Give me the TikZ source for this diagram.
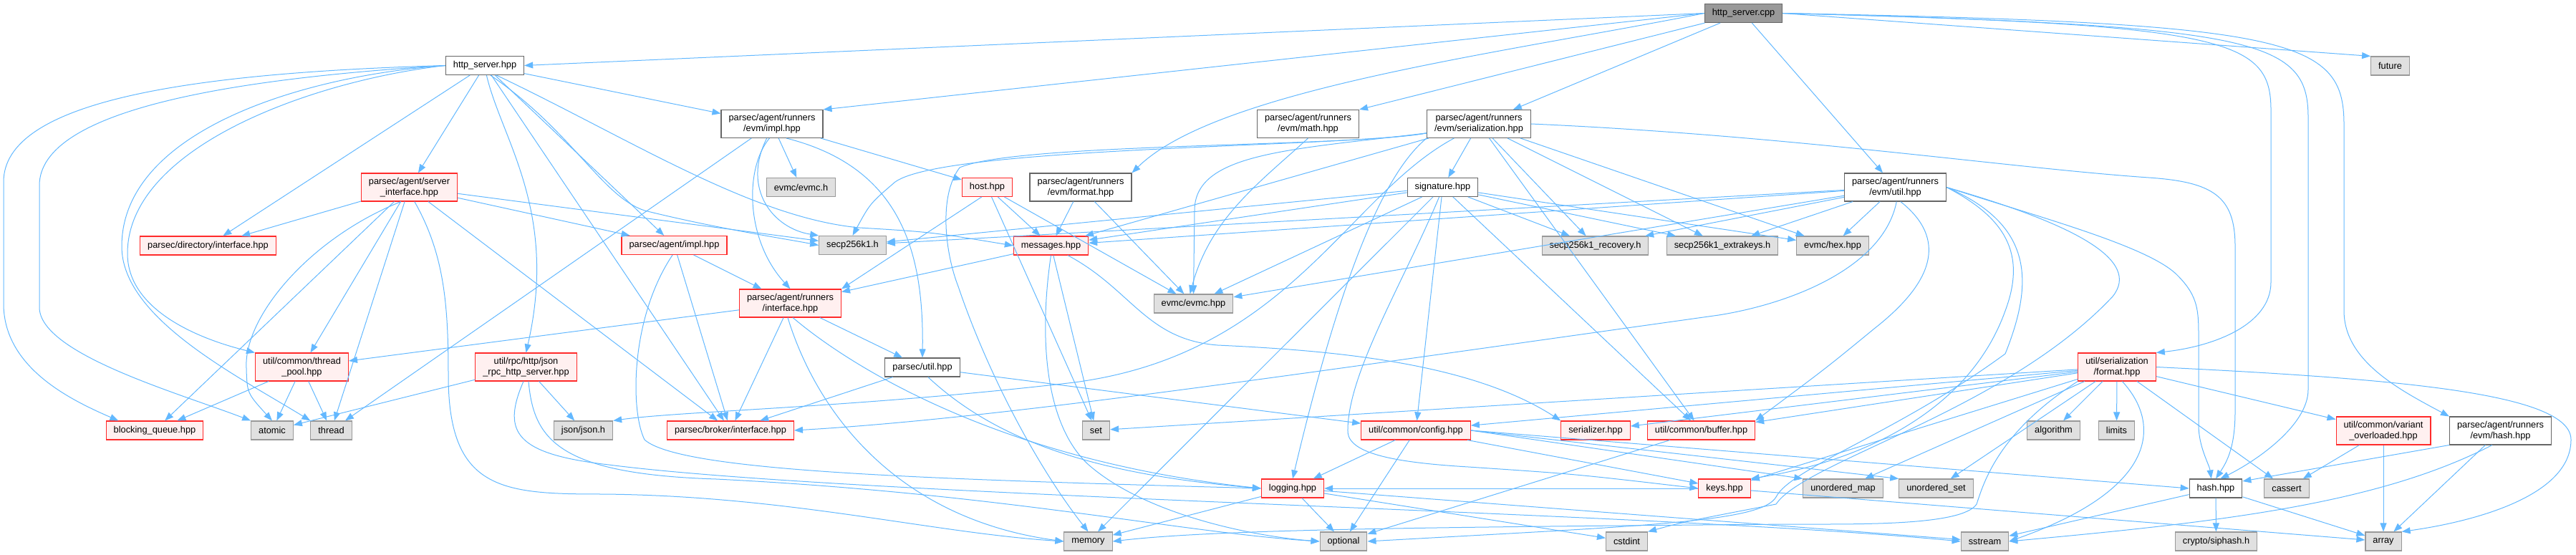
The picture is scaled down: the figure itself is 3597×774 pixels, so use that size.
\documentclass[tikz,border=0pt]{standalone}
\usepackage{fontspec}
\setmainfont{Liberation Sans}
\usetikzlibrary{arrows.meta}

\definecolor{edgeblue}{HTML}{63B8FF}
\definecolor{rootfill}{HTML}{999999}
\definecolor{darkline}{HTML}{666666}
\definecolor{redfill}{HTML}{FFF0F0}
\definecolor{redline}{HTML}{FF2A2A}
\definecolor{sysfill}{HTML}{E0E0E0}
\definecolor{sysline}{HTML}{999999}

\begin{document}
\begin{tikzpicture}[
    x=1pt, y=1pt,
    base_box/.style={
        rectangle,
        line width=1.1pt,
        inner xsep=10.5pt,
        inner ysep=6pt,
        minimum height=26pt,
        align=center,
        font=\fontsize{12.8}{15}\selectfont
    },
    root_box/.style={base_box, draw=darkline, fill=rootfill},
    file_box/.style={base_box, draw=darkline, fill=white},
    red_box/.style={base_box, draw=redline, fill=redfill},
    sys_box/.style={base_box, draw=sysline, fill=sysfill},
    inc_arrow/.style={
        -{Triangle[length=12pt,width=9pt]},
        draw=edgeblue,
        line width=1pt
    }
]
\useasboundingbox (0,0) rectangle (3597,774);

% Nodes
\node[root_box] (cpp) at (2434.5,755.5) {http\_server.cpp};
\node[file_box] (srvhpp) at (677,682.5) {http\_server.hpp};
\node[file_box] (evmimpl) at (1078,601) {parsec/agent/runners\\/evm/impl.hpp};
\node[file_box] (evmmath) at (1826.5,601) {parsec/agent/runners\\/evm/math.hpp};
\node[file_box] (evmser) at (2065,601) {parsec/agent/runners\\/evm/serialization.hpp};
\node[sys_box] (future) at (3337.5,682) {future};

\node[red_box] (srvif) at (571.5,512.5) {parsec/agent/server\\\_interface.hpp};
\node[sys_box] (evmch) at (1118.5,512.5) {evmc/evmc.h};
\node[red_box] (host) at (1378.5,512.5) {host.hpp};
\node[file_box] (evmformat) at (1509,512.5) {parsec/agent/runners\\/evm/format.hpp};
\node[file_box] (signature) at (2014.5,512.5) {signature.hpp};
\node[file_box] (evmutil) at (2646.5,512.5) {parsec/agent/runners\\/evm/util.hpp};

\node[red_box] (dirif) at (290.5,431) {parsec/directory/interface.hpp};
\node[red_box] (agentimpl) at (941.5,431.5) {parsec/agent/impl.hpp};
\node[sys_box] (secp) at (1190.5,431.5) {secp256k1.h};
\node[red_box] (messages) at (1467.5,431) {messages.hpp};
\node[sys_box] (recovery) at (2227.5,431) {secp256k1\_recovery.h};
\node[sys_box] (extrakeys) at (2405,431) {secp256k1\_extrakeys.h};
\node[sys_box] (hex) at (2559,431) {evmc/hex.hpp};

\node[red_box] (runif) at (1103.5,350.5) {parsec/agent/runners\\/interface.hpp};
\node[sys_box] (evmchpp) at (1666.5,350) {evmc/evmc.hpp};

\node[red_box] (tpool) at (421.5,261.5) {util/common/thread\\\_pool.hpp};
\node[red_box] (jsonrpc) at (734.5,261.5) {util/rpc/http/json\\\_rpc\_http\_server.hpp};
\node[file_box] (putil) at (1288,261) {parsec/util.hpp};
\node[red_box] (sfmt) at (2956,261.5) {util/serialization\\/format.hpp};

\node[red_box] (bqueue) at (216,173) {blocking\_queue.hpp};
\node[sys_box] (atomic) at (380,173) {atomic};
\node[sys_box] (thread) at (462.5,173) {thread};
\node[sys_box] (jsonh) at (814.5,173) {json/json.h};
\node[red_box] (brokerif) at (1020,173) {parsec/broker/interface.hpp};
\node[sys_box] (set) at (1530.5,173) {set};
\node[red_box] (config) at (1977,173) {util/common/config.hpp};
\node[red_box] (serializer) at (2228,173) {serializer.hpp};
\node[red_box] (buffer) at (2375.5,173) {util/common/buffer.hpp};
\node[sys_box] (algorithm) at (2867.5,173) {algorithm};
\node[sys_box] (limits) at (2955.5,173) {limits};
\node[red_box] (variant) at (3328,172.5) {util/common/variant\\\_overloaded.hpp};
\node[file_box] (evmhash) at (3491.5,172.5) {parsec/agent/runners\\/evm/hash.hpp};

\node[red_box] (logging) at (1805,92) {logging.hpp};
\node[red_box] (keys) at (2408,92) {keys.hpp};
\node[sys_box] (umap) at (2573.5,92) {unordered\_map};
\node[sys_box] (uset) at (2703.5,92) {unordered\_set};
\node[file_box] (hash) at (3094,92) {hash.hpp};
\node[sys_box] (cassert) at (3193,92) {cassert};

\node[sys_box] (memory) at (1519.5,18) {memory};
\node[sys_box] (optional) at (1876,18) {optional};
\node[sys_box] (cstdint) at (2271.5,18) {cstdint};
\node[sys_box] (sstream) at (2771.5,18) {sstream};
\node[sys_box] (siphash) at (3094.5,18) {crypto/siphash.h};
\node[sys_box] (array) at (3328,18) {array};

% http_server.cpp
\draw[inc_arrow] (cpp.west) -- (srvhpp.east);
\draw[inc_arrow] (cpp.west) -- (evmimpl.north east);
\draw[inc_arrow] (cpp) -- (evmmath.north east);
\draw[inc_arrow] (cpp.west) .. controls (2100,700) and (1700,650) .. (evmformat.north east);
\draw[inc_arrow] (cpp) -- (evmser);
\draw[inc_arrow] (cpp) -- (evmutil);
\draw[inc_arrow] (cpp.east) -- (future.north west);
\draw[inc_arrow] (cpp.east) .. controls (3110,740) and (3171,720) .. (3171,620) -- (3171,380) .. controls (3171,320) and (3090,290) .. (sfmt.north east);
\draw[inc_arrow] (cpp.east) .. controls (3150,738) and (3223,720) .. (3223,610) -- (3223,230) .. controls (3223,180) and (3150,130) .. (hash.65);
\draw[inc_arrow] (cpp.east) .. controls (3200,742) and (3273,720) .. (3273,600) -- (3273,340) .. controls (3273,270) and (3350,230) .. (evmhash.north west);

% http_server.hpp
\draw[inc_arrow] (srvhpp.west) .. controls (250,672) and (5,630) .. (5,520) -- (5,350) .. controls (5,260) and (100,215) .. (bqueue.165);
\draw[inc_arrow] (srvhpp.west) .. controls (320,664) and (55,620) .. (55,515) -- (55,345) .. controls (55,280) and (250,225) .. (atomic.north west);
\draw[inc_arrow] (srvhpp.west) .. controls (420,668) and (170,590) .. (170,430) .. controls (170,330) and (330,250) .. (thread.north west);
\draw[inc_arrow] (srvhpp.west) .. controls (440,662) and (178,570) .. (178,420) .. controls (178,340) and (280,300) .. (tpool.north west);
\draw[inc_arrow] (srvhpp) -- (dirif);
\draw[inc_arrow] (srvhpp) -- (srvif);
\draw[inc_arrow] (srvhpp) -- (brokerif);
\draw[inc_arrow] (srvhpp.-80) .. controls (700,580) and (780,480) .. (jsonrpc.north);
\draw[inc_arrow] (srvhpp) -- (agentimpl);
\draw[inc_arrow] (srvhpp.-60) .. controls (800,590) and (840,500) .. (900,480) .. controls (1000,455) and (1100,440) .. (secp.west);
\draw[inc_arrow] (srvhpp.-40) .. controls (880,580) and (1050,470) .. (1200,456) .. controls (1300,450) .. (messages.west);
\draw[inc_arrow] (srvhpp) -- (evmimpl);

% parsec/agent/server_interface.hpp
\draw[inc_arrow] (srvif) -- (dirif);
\draw[inc_arrow] (srvif) -- (bqueue);
\draw[inc_arrow] (srvif.-120) .. controls (430,440) and (340,330) .. (344,260) .. controls (345,225) .. (atomic.north);
\draw[inc_arrow] (srvif) -- (tpool);
\draw[inc_arrow] (srvif) -- (thread);
\draw[inc_arrow] (srvif.-70) .. controls (620,420) and (626,350) .. (626,250) .. controls (626,90) and (700,84) .. (840,84) .. controls (1100,82) and (1300,30) .. (memory.west);
\draw[inc_arrow] (srvif) -- (brokerif);
\draw[inc_arrow] (srvif) -- (secp);
\draw[inc_arrow] (srvif) -- (agentimpl);

% parsec/agent/runners/evm/impl.hpp
\draw[inc_arrow] (evmimpl) -- (thread);
\draw[inc_arrow] (evmimpl.-100) .. controls (1040,540) and (1040,440) .. (runif.north);
\draw[inc_arrow] (evmimpl.-110) .. controls (1035,510) and (1080,455) .. (secp.north west);
\draw[inc_arrow] (evmimpl) -- (evmch);
\draw[inc_arrow] (evmimpl.-45) .. controls (1260,540) and (1290,420) .. (putil.north);
\draw[inc_arrow] (evmimpl) -- (host);

% parsec/agent/impl.hpp
\draw[inc_arrow] (agentimpl) -- (runif);
\draw[inc_arrow] (agentimpl) -- (brokerif);
\draw[inc_arrow] (agentimpl.-100) .. controls (880,330) and (880,200) .. (900,160) .. controls (950,115) and (1300,105) .. (logging.west);

% host.hpp, format.hpp, math.hpp
\draw[inc_arrow] (host.-120) -- (runif.north east);
\draw[inc_arrow] (host) -- (messages);
\draw[inc_arrow] (host) -- (evmchpp);
\draw[inc_arrow] (host) -- (set);
\draw[inc_arrow] (evmformat) -- (messages);
\draw[inc_arrow] (evmformat) -- (evmchpp);
\draw[inc_arrow] (evmmath.south) .. controls (1760,520) and (1690,470) .. (evmchpp.110);

% messages.hpp
\draw[inc_arrow] (messages) -- (runif);
\draw[inc_arrow] (messages) -- (set);
\draw[inc_arrow] (messages.south) .. controls (1450,300) and (1460,180) .. (1520,125) .. controls (1600,55) and (1750,25) .. (optional.west);
\draw[inc_arrow] (messages.-30) .. controls (1580,370) and (1600,300) .. (1700,292) .. controls (1850,285) and (2050,270) .. (serializer.north west);

% parsec/agent/runners/evm/serialization.hpp
\draw[inc_arrow] (evmser) -- (signature);
\draw[inc_arrow] (evmser) -- (recovery);
\draw[inc_arrow] (evmser) -- (extrakeys);
\draw[inc_arrow] (evmser) -- (hex);
\draw[inc_arrow] (evmser) -- (messages);
\draw[inc_arrow] (evmser.east) .. controls (2500,585) and (2800,540) .. (3000,526) .. controls (3090,520) and (3121,500) .. (3121,430) -- (3121,200) .. controls (3121,150) and (3110,130) .. (hash.north);
\draw[inc_arrow] (evmser.-170) .. controls (1880,568) and (1420,575) .. (1340,540) .. controls (1310,500) and (1320,420) .. (1338,374) .. controls (1380,250) and (1450,120) .. (memory.north);
\draw[inc_arrow] (evmser.-170) .. controls (1880,568) and (1320,570) .. (1250,520) .. controls (1215,490) .. (secp.north);
\draw[inc_arrow] (evmser.-170) .. controls (1800,565) and (1668,560) .. (1668,480) -- (evmchpp.north);
\draw[inc_arrow] (evmser.-150) .. controls (1880,500) and (1800,280) .. (1500,240) .. controls (1200,205) and (950,200) .. (jsonh.north east);
\draw[inc_arrow] (evmser.south west) .. controls (1930,530) and (1870,380) .. (logging.north);
\draw[inc_arrow] (evmser) -- (buffer);

% signature.hpp
\draw[inc_arrow] (signature) -- (secp);
\draw[inc_arrow] (signature) -- (messages);
\draw[inc_arrow] (signature) -- (evmchpp);
\draw[inc_arrow] (signature) -- (memory);
\draw[inc_arrow] (signature) -- (config);
\draw[inc_arrow] (signature.-110) .. controls (1960,380) and (1880,250) .. (1882,170) .. controls (1885,140) and (1950,128) .. (2050,122) .. controls (2200,112) .. (keys.west);
\draw[inc_arrow] (signature) -- (buffer);
\draw[inc_arrow] (signature) -- (recovery);
\draw[inc_arrow] (signature) -- (extrakeys);
\draw[inc_arrow] (signature) -- (hex);

% parsec/agent/runners/evm/util.hpp
\draw[inc_arrow] (evmutil) -- (secp);
\draw[inc_arrow] (evmutil) -- (messages);
\draw[inc_arrow] (evmutil) -- (evmchpp);
\draw[inc_arrow] (evmutil) -- (recovery);
\draw[inc_arrow] (evmutil) -- (extrakeys);
\draw[inc_arrow] (evmutil) -- (hex);
\draw[inc_arrow] (evmutil.-85) .. controls (2630,400) and (2500,350) .. (2400,334) .. controls (1800,250) and (1400,190) .. (brokerif.east);
\draw[inc_arrow] (evmutil.-70) .. controls (2720,440) and (2700,380) .. (2617,315) .. controls (2550,260) .. (buffer.north east);
\draw[inc_arrow] (evmutil.east) .. controls (2800,470) and (2830,420) .. (2800,340) .. controls (2750,200) and (2600,130) .. (keys.north east);
\draw[inc_arrow] (evmutil.east) .. controls (2840,460) and (2840,380) .. (2800,280) .. controls (2650,170) and (2500,120) .. (2480,80) .. controls (2460,45) and (2300,40) .. (optional.east);
\draw[inc_arrow] (evmutil.east) .. controls (2900,460) and (2990,410) .. (2950,360) .. controls (2800,200) and (2520,130) .. (2480,70) .. controls (2350,45) .. (cstdint.north east);
\draw[inc_arrow] (evmutil.east) .. controls (2850,470) and (3000,430) .. (3040,390) .. controls (3070,360) and (3070,340) .. (3070,300) -- (3070,180) .. controls (3070,150) and (3085,125) .. (hash.115);

% util/serialization/format.hpp
\draw[inc_arrow] (sfmt) -- (set);
\draw[inc_arrow] (sfmt) -- (config);
\draw[inc_arrow] (sfmt) -- (serializer);
\draw[inc_arrow] (sfmt) -- (buffer);
\draw[inc_arrow] (sfmt) -- (keys);
\draw[inc_arrow] (sfmt) -- (umap);
\draw[inc_arrow] (sfmt) -- (uset);
\draw[inc_arrow] (sfmt) -- (algorithm);
\draw[inc_arrow] (sfmt) -- (limits);
\draw[inc_arrow] (sfmt) -- (cassert);
\draw[inc_arrow] (sfmt) -- (variant);
\draw[inc_arrow] (sfmt.-70) .. controls (3020,180) and (3010,90) .. (sstream.east);
\draw[inc_arrow] (sfmt.south west) .. controls (2790,170) and (2770,100) .. (2760,70) .. controls (2740,40) and (2600,42) .. (2500,42) .. controls (2000,38) and (1700,35) .. (memory.east);
\draw[inc_arrow] (sfmt.east) .. controls (3350,245) and (3590,225) .. (3590,160) .. controls (3590,80) and (3450,45) .. (array.north east);

% util/common/config.hpp, buffer.hpp, keys.hpp
\draw[inc_arrow] (config) -- (logging);
\draw[inc_arrow] (config) -- (optional);
\draw[inc_arrow] (config) -- (keys);
\draw[inc_arrow] (config.east) -- (umap.north west);
\draw[inc_arrow] (config.east) -- (uset.north west);
\draw[inc_arrow] (config.east) -- (hash.west);
\draw[inc_arrow] (buffer) -- (optional);
\draw[inc_arrow] (keys) -- (logging);
\draw[inc_arrow] (keys) -- (array);

% logging.hpp
\draw[inc_arrow] (logging) -- (memory);
\draw[inc_arrow] (logging) -- (optional);
\draw[inc_arrow] (logging) -- (cstdint);
\draw[inc_arrow] (logging) -- (sstream);

% util/rpc/http/json_rpc_http_server.hpp
\draw[inc_arrow] (jsonrpc) -- (jsonh);
\draw[inc_arrow] (jsonrpc) -- (atomic);
\draw[inc_arrow] (jsonrpc.-100) .. controls (700,170) and (720,140) .. (850,125) .. controls (1200,80) and (2300,60) .. (sstream.west);
\draw[inc_arrow] (jsonrpc.-80) .. controls (745,160) and (780,112) .. (1000,105) .. controls (1400,85) and (1650,30) .. (optional.west);

% util/common/thread_pool.hpp
\draw[inc_arrow] (tpool) -- (bqueue);
\draw[inc_arrow] (tpool) -- (atomic);
\draw[inc_arrow] (tpool) -- (thread);

% parsec/agent/runners/interface.hpp
\draw[inc_arrow] (runif) -- (tpool);
\draw[inc_arrow] (runif) -- (brokerif);
\draw[inc_arrow] (runif) -- (putil);
\draw[inc_arrow] (runif.-80) .. controls (1190,260) and (1400,130) .. (logging.west);
\draw[inc_arrow] (runif.-100) .. controls (1140,200) and (1250,50) .. (memory.west);

% parsec/util.hpp
\draw[inc_arrow] (putil) -- (brokerif);
\draw[inc_arrow] (putil.-60) .. controls (1400,150) and (1550,110) .. (logging.west);
\draw[inc_arrow] (putil) -- (config);

% hash files
\draw[inc_arrow] (evmhash.south west) -- (hash.15);
\draw[inc_arrow] (evmhash.-120) .. controls (3320,70) and (3100,45) .. (sstream.east);
\draw[inc_arrow] (evmhash) -- (array);
\draw[inc_arrow] (hash) -- (siphash);
\draw[inc_arrow] (hash) -- (array);
\draw[inc_arrow] (hash) -- (sstream);
\draw[inc_arrow] (variant) -- (cassert);
\draw[inc_arrow] (variant) -- (array);

\end{tikzpicture}
\end{document}
